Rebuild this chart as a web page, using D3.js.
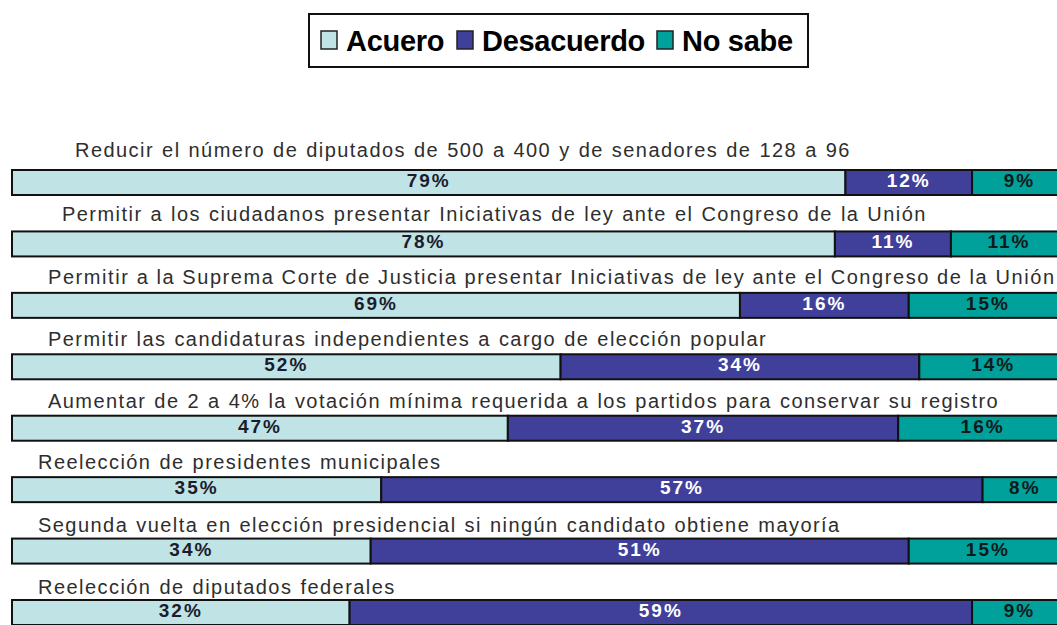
<!DOCTYPE html>
<html>
<head>
<meta charset="utf-8">
<script src="https://cdn.jsdelivr.net/npm/d3@7"></script>
<style>
  html, body { margin: 0; padding: 0; background: #fff; }
  svg { display: block; }
</style>
</head>
<body>
<svg id="chart" width="1057" height="625"></svg>
<script>
// ---- data ----
const categories = [
  "Reducir el número de diputados de 500 a 400 y de senadores de 128 a 96",
  "Permitir a los ciudadanos presentar Iniciativas de ley ante el Congreso de la Unión",
  "Permitir a la Suprema Corte de Justicia presentar Iniciativas de ley ante el Congreso de la Unión",
  "Permitir las candidaturas independientes a cargo de elección popular",
  "Aumentar de 2 a 4% la votación mínima requerida a los partidos para conservar su registro",
  "Reelección de presidentes municipales",
  "Segunda vuelta en elección presidencial si ningún candidato obtiene mayoría",
  "Reelección de diputados federales"
];
const seriesNames = ["Acuero", "Desacuerdo", "No sabe"];
const acuerdo    = [79, 78, 69, 52, 47, 35, 34, 32];
const desacuerdo = [12, 11, 16, 34, 37, 57, 51, 59];
const noSabe     = [9, 11, 15, 14, 16, 8, 15, 9];

// ---- styles ----
const colors = ["#c0e3e5", "#40409a", "#00a09b"];
const labelColors = ["#1c1c2c", "#ffffff", "#101a1a"];
const labelIndent = [75, 62, 48, 48, 48, 38, 38, 38];
const labelLift = [13, 10, 9, 8, 8, 8, 7, 6];

const W = 1057;
const svg = d3.select("#chart");
const font = "'Liberation Sans', Arial, sans-serif";

const x = d3.scaleLinear().domain([0, 100]).range([12, 1067]);
const y = d3.scaleBand().domain(categories).range([170, 625]).paddingInner(0.593).paddingOuter(0).align(0);

const rows = categories.map((c, i) => ({ cat: c, i, vals: [acuerdo[i], desacuerdo[i], noSabe[i]] }));
const stack = d3.stack().keys([0, 1, 2]).value((d, k) => d.vals[k]);
const stacked = stack(rows);

// category labels
svg.append("g").selectAll("text").data(rows).join("text")
  .attr("x", d => labelIndent[d.i])
  .attr("y", d => y(d.cat) - labelLift[d.i])
  .attr("font-family", font)
  .attr("font-size", 20)
  .attr("letter-spacing", "1.45px")
  .attr("word-spacing", "1px")
  .attr("fill", "#2e2e2e")
  .text(d => d.cat)
  .each(function(d) {
    // keep the longest label inside the picture
    const maxLen = W - 3 - labelIndent[d.i];
    const bb = this.getBBox();
    if (bb.width > maxLen) {
      d3.select(this)
        .attr("letter-spacing", null)
        .attr("word-spacing", null)
        .attr("textLength", maxLen)
        .attr("lengthAdjust", "spacing");
    }
  });

// bars
const groups = svg.append("g").selectAll("g").data(stacked).join("g")
  .attr("fill", (s, k) => colors[k]);

groups.selectAll("rect").data(s => s).join("rect")
  .attr("x", d => x(d[0]))
  .attr("y", d => y(d.data.cat))
  .attr("width", d => x(d[1]) - x(d[0]))
  .attr("height", y.bandwidth())
  .attr("stroke", "#111")
  .attr("stroke-width", 2);

// value labels
stacked.forEach((s, k) => {
  svg.append("g").selectAll("text").data(s).join("text")
    .attr("x", d => (x(d[0]) + x(d[1])) / 2)
    .attr("y", d => y(d.data.cat) + 17)
    .attr("text-anchor", "middle")
    .attr("font-family", font)
    .attr("font-weight", "bold")
    .attr("font-size", 19)
    .attr("letter-spacing", "2px")
    .attr("fill", labelColors[k])
    .text(d => (d[1] - d[0]) + "%");
});

// legend
const legend = svg.append("g");
legend.append("rect")
  .attr("x", 309).attr("y", 14).attr("width", 499).attr("height", 53)
  .attr("fill", "#fff").attr("stroke", "#111").attr("stroke-width", 2);
const legendX = [321, 457, 657];
seriesNames.forEach((n, k) => {
  legend.append("rect")
    .attr("x", legendX[k]).attr("y", 31).attr("width", 16).attr("height", 18)
    .attr("fill", colors[k]).attr("stroke", "#222").attr("stroke-width", 1.5);
  legend.append("text")
    .attr("x", legendX[k] + 25).attr("y", 51)
    .attr("font-family", font).attr("font-weight", "bold")
    .attr("font-size", 29).attr("letter-spacing", "-0.3px")
    .attr("fill", "#000")
    .text(n);
});
</script>
</body>
</html>
